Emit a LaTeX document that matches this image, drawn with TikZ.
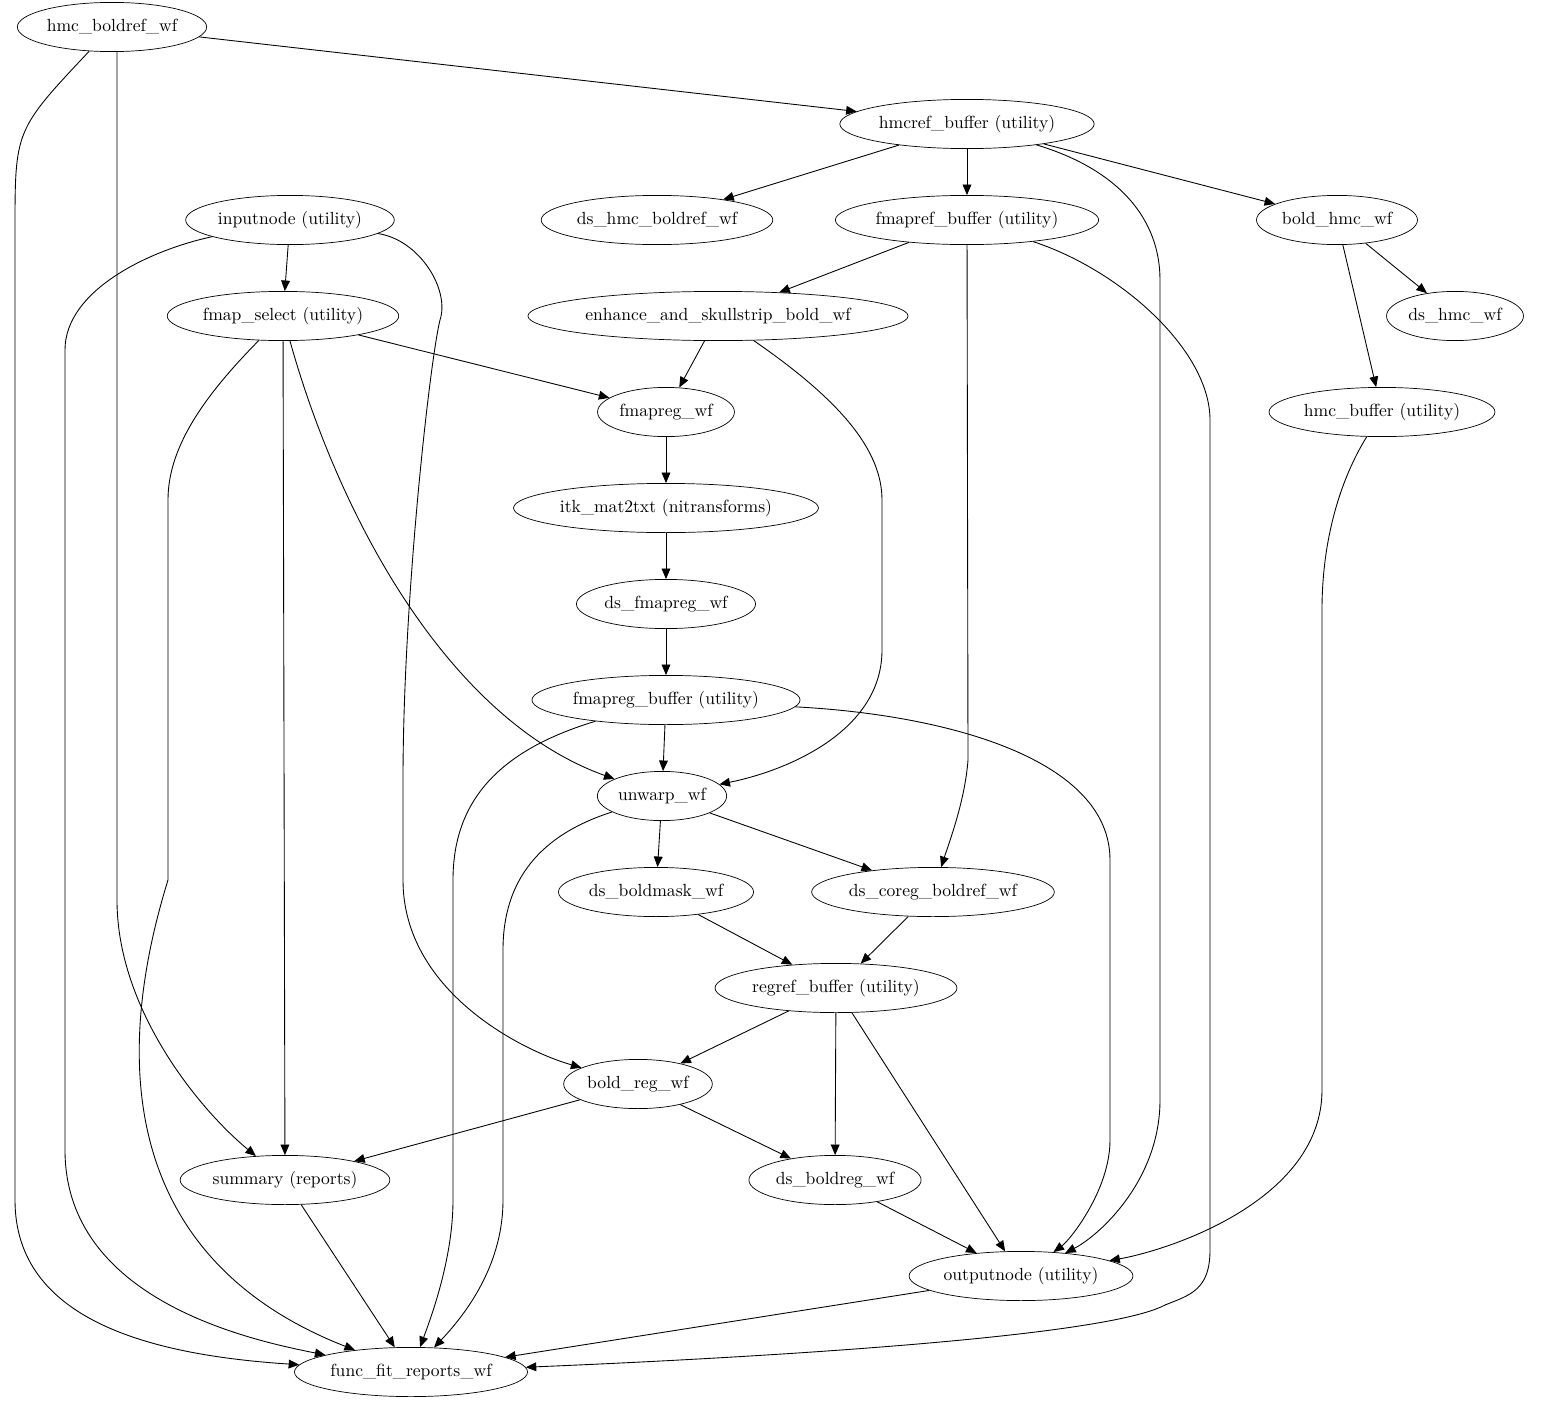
\documentclass[tikz,border=0pt]{standalone}
\usetikzlibrary{shapes.geometric,arrows.meta}
\begin{document}
\begin{tikzpicture}[x=0.02cm,y=-0.02cm,
    wf/.style={draw,ellipse,inner sep=1pt,minimum height=28pt,font=\normalsize},
    edge/.style={-{Triangle[length=6pt,width=5pt]},line width=0.5pt}]
    \useasboundingbox (0,0) rectangle (1543,1403);
    % nodes
    \node[wf] (hmcb) at (112,27) {hmc\_boldref\_wf};
    \node[wf] (hmcrefbuf) at (967,124) {hmcref\_buffer (utility)};
    \node[wf] (dshmcb) at (657,220) {ds\_hmc\_boldref\_wf};
    \node[wf] (fmaprefbuf) at (967,220) {fmapref\_buffer (utility)};
    \node[wf] (boldhmc) at (1337,220) {bold\_hmc\_wf};
    \node[wf] (inputnode) at (290,220) {inputnode (utility)};
    \node[wf] (fmapsel) at (283,316) {fmap\_select (utility)};
    \node[wf] (enhance) at (718,316) {enhance\_and\_skullstrip\_bold\_wf};
    \node[wf] (dshmc) at (1455,316) {ds\_hmc\_wf};
    \node[wf] (fmapreg) at (666,412) {fmapreg\_wf};
    \node[wf] (hmcbuf) at (1382,412) {hmc\_buffer (utility)};
    \node[wf] (itk) at (666,508) {itk\_mat2txt (nitransforms)};
    \node[wf] (dsfmapreg) at (666,604) {ds\_fmapreg\_wf};
    \node[wf] (fmapregbuf) at (666,700) {fmapreg\_buffer (utility)};
    \node[wf] (unwarp) at (662,796) {unwarp\_wf};
    \node[wf] (dsmask) at (656,892) {ds\_boldmask\_wf};
    \node[wf] (dscoreg) at (933,892) {ds\_coreg\_boldref\_wf};
    \node[wf] (regrefbuf) at (836,988) {regref\_buffer (utility)};
    \node[wf] (boldreg) at (638,1084) {bold\_reg\_wf};
    \node[wf] (summary) at (285,1180) {summary (reports)};
    \node[wf] (dsboldreg) at (835,1180) {ds\_boldreg\_wf};
    \node[wf] (outputnode) at (1021,1276) {outputnode (utility)};
    \node[wf] (fitrep) at (411,1372) {func\_fit\_reports\_wf};
    % straight edges
    \foreach \a/\b in {hmcb/hmcrefbuf, hmcrefbuf/dshmcb, hmcrefbuf/fmaprefbuf, hmcrefbuf/boldhmc,
        inputnode/fmapsel, fmapsel/fmapreg, fmapsel/summary, fmaprefbuf/enhance,
        boldhmc/dshmc, boldhmc/hmcbuf, enhance/fmapreg, fmapreg/itk, itk/dsfmapreg,
        dsfmapreg/fmapregbuf, fmapregbuf/unwarp, unwarp/dsmask, unwarp/dscoreg,
        dsmask/regrefbuf, dscoreg/regrefbuf, regrefbuf/boldreg, regrefbuf/dsboldreg,
        regrefbuf/outputnode, boldreg/summary, boldreg/dsboldreg, summary/fitrep,
        dsboldreg/outputnode, outputnode/fitrep}
        \draw[edge] (\a) -- (\b);
    % curved edges
    \draw[edge] (hmcb) .. controls (15,130) .. (15,230) -- (15,1200) .. controls (15,1320) and (150,1355) .. (fitrep);
    \draw[edge] (117,52) -- (117,900) .. controls (117,1010) and (200,1110) .. (summary);
    \draw[edge] (hmcrefbuf) .. controls (1120,170) and (1160,220) .. (1160,280) -- (1160,1100) .. controls (1160,1180) and (1100,1235) .. (outputnode);
    \draw[edge] (inputnode) .. controls (150,250) and (65,290) .. (65,350) -- (65,1150) .. controls (65,1300) and (250,1340) .. (fitrep);
    \draw[edge] (inputnode) .. controls (420,240) and (450,290) .. (440,320) .. controls (430,360) and (403,600) .. (403,780) -- (403,880) .. controls (403,990) and (520,1050) .. (boldreg);
    \draw[edge] (fmapsel) .. controls (340,520) and (450,720) .. (unwarp);
    \draw[edge] (fmapsel) .. controls (200,400) and (168,450) .. (168,500) -- (168,880) .. controls (100,1100) and (150,1270) .. (fitrep);
    \draw[edge] (fmaprefbuf) -- (968,760) .. controls (965,800) and (950,840) .. (dscoreg);
    \draw[edge] (fmaprefbuf) .. controls (1120,270) and (1210,350) .. (1210,420) -- (1210,1250) .. controls (1210,1290) and (1190,1295) .. (1165,1305) .. controls (1100,1340) and (700,1360) .. (fitrep);
    \draw[edge] (hmcbuf) .. controls (1340,480) and (1322,540) .. (1322,610) -- (1322,1090) .. controls (1322,1200) and (1170,1250) .. (outputnode);
    \draw[edge] (enhance) .. controls (840,400) and (882,450) .. (882,500) -- (882,650) .. controls (882,730) and (790,770) .. (unwarp);
    \draw[edge] (fmapregbuf) .. controls (500,750) and (453,800) .. (453,880) -- (453,1200) .. controls (453,1260) and (430,1320) .. (fitrep);
    \draw[edge] (fmapregbuf) .. controls (950,715) and (1110,760) .. (1110,860) -- (1110,1140) .. controls (1110,1190) and (1070,1240) .. (outputnode);
    \draw[edge] (unwarp) .. controls (540,835) and (503,880) .. (503,950) -- (503,1200) .. controls (503,1270) and (460,1320) .. (fitrep);
\end{tikzpicture}
\end{document}
